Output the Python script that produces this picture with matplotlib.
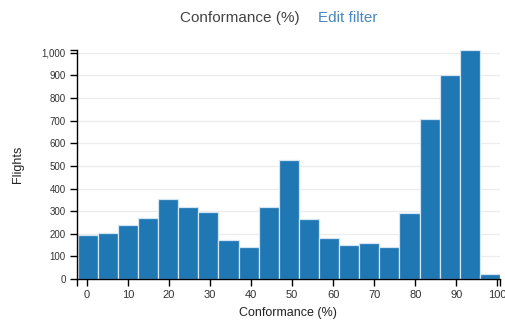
import matplotlib.pyplot as plt
import numpy as np

plt.rcParams['font.family'] = ['Liberation Sans', 'DejaVu Sans']

# histogram of conformance, 21 bins
bin_labels = [0, 5, 10, 15, 20, 25, 30, 35, 40, 45, 50,
              55, 60, 65, 70, 75, 80, 85, 90, 95, 100]
flights = [195, 202, 240, 271, 355, 319, 297, 171, 144, 319, 526,
           266, 182, 151, 161, 140, 292, 705, 900, 1010, 23]
x_ticks = [0, 10, 20, 30, 40, 50, 60, 70, 80, 90, 100]
y_ticks = [0, 100, 200, 300, 400, 500, 600, 700, 800, 900, 1000]

x_lo, x_hi = -2.4, 100.6
edges = np.linspace(-2.2, 100.6, len(bin_labels) + 1)

fig = plt.figure(figsize=(5.06, 3.28), dpi=100)
ax = fig.add_axes([0.152, 0.149, 0.836, 0.699])

ax.bar(edges[:-1], flights, width=np.diff(edges), align='edge',
       color='#1f77b4', edgecolor='#d4e6f5', linewidth=0.9, zorder=2)

ax.set_xlim(x_lo, x_hi)
ax.set_ylim(0, max(flights) + 2)

ax.set_xticks(x_ticks)
ax.set_yticks(y_ticks)
ax.set_yticklabels([f'{v:,}' for v in y_ticks])
# outer ticks at the ends of each axis
ax.set_xticks([x_lo, x_hi], minor=True)
ax.set_yticks([max(flights) + 2], minor=True)

ax.tick_params(axis='both', which='both', direction='out', length=5,
               width=1, color='black', pad=3)
ax.tick_params(axis='x', labelsize=8, labelcolor='#333333')
ax.tick_params(axis='y', labelsize=7, labelcolor='#333333')

ax.grid(axis='y', color='#ececec', linewidth=0.9, zorder=0)
ax.set_axisbelow(True)

for side in ['top', 'right']:
    ax.spines[side].set_visible(False)
for side in ['left', 'bottom']:
    ax.spines[side].set_color('black')
    ax.spines[side].set_linewidth(1)

ax.set_xlabel('Conformance (%)', fontsize=9, color='#222222', labelpad=5)
ax.set_ylabel('Flights', fontsize=9, color='#222222', labelpad=13)

fig.text(0.474, 0.945, 'Conformance (%)', fontsize=11, color='#444444',
         ha='center', va='center')
fig.text(0.628, 0.945, 'Edit filter', fontsize=11, color='#4a86c0',
         ha='left', va='center')

fig.savefig('out.png', dpi=100)
